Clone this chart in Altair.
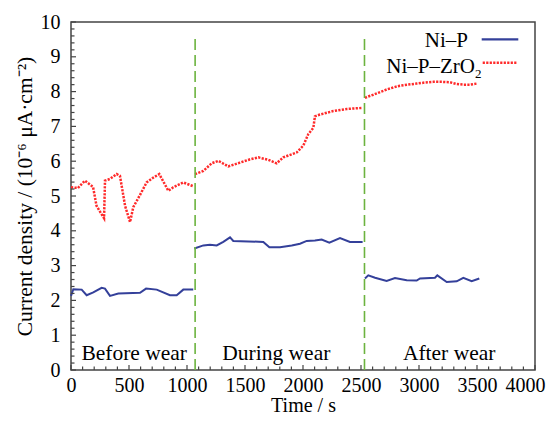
import altair as alt
import pandas as pd

# ---------------- data ----------------
nip_before_t = [0, 20, 92, 135, 192, 264, 293, 336, 408, 595, 647, 739, 853, 911, 968, 1054]
nip_before_v = [2.13, 2.32, 2.31, 2.15, 2.23, 2.36, 2.34, 2.13, 2.20, 2.22, 2.34, 2.31, 2.15, 2.15, 2.31, 2.31]
nip_during_t = [1063, 1141, 1198, 1256, 1313, 1371, 1399, 1658, 1710, 1802, 1903, 1974, 2032, 2103, 2161, 2227, 2319, 2405, 2514]
nip_during_v = [3.49, 3.58, 3.60, 3.58, 3.68, 3.81, 3.71, 3.68, 3.53, 3.53, 3.58, 3.63, 3.71, 3.72, 3.75, 3.66, 3.79, 3.68, 3.68]
nip_after_t = [2534, 2563, 2621, 2721, 2793, 2894, 2980, 3009, 3138, 3158, 3239, 3325, 3382, 3454, 3520]
nip_after_v = [2.63, 2.72, 2.65, 2.56, 2.64, 2.58, 2.57, 2.63, 2.65, 2.72, 2.53, 2.55, 2.65, 2.55, 2.63]

zro_before_t = [0, 60, 120, 190, 220, 250, 285, 293, 336, 394, 422, 466, 509, 537, 590, 652, 710, 761, 839, 882, 968, 1054]
zro_before_v = [5.25, 5.23, 5.44, 5.26, 4.72, 4.55, 4.36, 5.44, 5.49, 5.63, 5.58, 4.72, 4.25, 4.68, 5.00, 5.39, 5.53, 5.63, 5.15, 5.25, 5.39, 5.28]
zro_during_t = [1069, 1141, 1213, 1270, 1356, 1457, 1540, 1615, 1701, 1773, 1830, 1945, 2003, 2046, 2089, 2103, 2146, 2261, 2376, 2505]
zro_during_v = [5.63, 5.72, 5.94, 6.01, 5.85, 5.96, 6.05, 6.11, 6.04, 5.94, 6.11, 6.25, 6.45, 6.78, 6.96, 7.29, 7.34, 7.44, 7.50, 7.53]
zro_after_t = [2534, 2563, 2606, 2660, 2721, 2780, 2836, 2900, 2980, 3050, 3124, 3200, 3267, 3320, 3382, 3440, 3497]
zro_after_v = [7.82, 7.86, 7.91, 7.98, 8.06, 8.12, 8.17, 8.20, 8.23, 8.26, 8.28, 8.28, 8.27, 8.22, 8.20, 8.20, 8.23]

boundary_t = [1070, 2530]
boundary_top = [9.63, 9.63]

phase_labels = ["Before wear", "During wear", "After wear"]
phase_label_t = [545, 1770, 3260]
phase_label_v = [0.3, 0.3, 0.3]

legend_labels = ["Ni\u2013P", "Ni\u2013P\u2013ZrO"]

x_tick_labels = [0, 500, 1000, 1500, 2000, 2500, 3000, 3500, 4000]
y_tick_labels = [0, 1, 2, 3, 4, 5, 6, 7, 8, 9, 10]

# ---------------- styling ----------------
BLUE = "#34409a"
RED = "#ff2a2a"
GREEN = "#6cb33f"
FRAME = "#444444"
FONT = "Liberation Serif"
W, H = 464, 348


def seg(ts, vs, phase):
    return pd.DataFrame({"t": ts, "v": vs, "phase": phase})


blue_df = pd.concat([seg(nip_before_t, nip_before_v, "b"),
                     seg(nip_during_t, nip_during_v, "d"),
                     seg(nip_after_t, nip_after_v, "a")])
red_df = pd.concat([seg(zro_before_t, zro_before_v, "b"),
                    seg(zro_during_t, zro_during_v, "d"),
                    seg(zro_after_t, zro_after_v, "a")])

x_scale = alt.Scale(domain=[0, 4000], nice=False, zero=False)
y_scale = alt.Scale(domain=[0, 10], nice=False)

x_axis = alt.Axis(values=x_tick_labels, format="d", title="Time / s",
                  labelPadding=5, titlePadding=0, titleFontSize=20,
                  labelOffset={"condition": {"test": "datum.value == 4000", "value": -10},
                               "value": 0})
y_axis = alt.Axis(values=y_tick_labels, format="d",
                  title="Current density / (10\u207b\u2076 \u03bcA\u00b7cm\u207b\u00b2)",
                  labelPadding=11, titlePadding=4, titleFontSize=21.5)


def X(f="t:Q"):
    return alt.X(f, scale=x_scale, axis=x_axis)


def Y(f="v:Q"):
    return alt.Y(f, scale=y_scale, axis=y_axis)


blue_line = alt.Chart(blue_df).mark_line(color=BLUE, strokeWidth=2).encode(
    x=X(), y=Y(), detail="phase:N",
)
red_line = alt.Chart(red_df).mark_line(color=RED, strokeWidth=2.5, strokeDash=[2.2, 1.3]).encode(
    x=X(), y=Y(), detail="phase:N",
)

bnd_df = pd.DataFrame({"t": boundary_t, "y0": [0, 0], "y1": boundary_top})
boundaries = alt.Chart(bnd_df).mark_rule(color=GREEN, strokeWidth=1.6, strokeDash=[11, 5]).encode(
    x=X(), y=Y("y0:Q"), y2="y1:Q",
)

# inward ticks
y_major_df = pd.DataFrame({"v": y_tick_labels})
y_minor_df = pd.DataFrame({"v": [i / 5 for i in range(0, 51) if i % 5 != 0]})
x_major_df = pd.DataFrame({"t": x_tick_labels})
x_minor_df = pd.DataFrame({"t": [i * 100 for i in range(0, 41) if i % 5 != 0]})

y_major = alt.Chart(y_major_df).mark_rule(color=FRAME, strokeWidth=1.2).encode(
    y=Y(), x=alt.value(0), x2=alt.value(5))
y_minor = alt.Chart(y_minor_df).mark_rule(color=FRAME, strokeWidth=1.2).encode(
    y=Y(), x=alt.value(0), x2=alt.value(3.5))
x_major = alt.Chart(x_major_df).mark_rule(color=FRAME, strokeWidth=1.2).encode(
    x=X(), y=alt.value(H), y2=alt.value(H - 5))
x_minor = alt.Chart(x_minor_df).mark_rule(color=FRAME, strokeWidth=1.2).encode(
    x=X(), y=alt.value(H), y2=alt.value(H - 3.5))

# phase labels
ph_df = pd.DataFrame({"t": phase_label_t, "v": phase_label_v, "label": phase_labels})
phase_text = alt.Chart(ph_df).mark_text(font=FONT, fontSize=21.5, baseline="alphabetic",
                                        align="center", color="black").encode(
    x=X(), y=Y(), text="label:N")

# legend (drawn manually, top right)
one = pd.DataFrame({"a": [0]})
leg_t1 = alt.Chart(one).mark_text(font=FONT, fontSize=21, align="right", baseline="alphabetic",
                                  color="black").encode(
    x=alt.value(397), y=alt.value(24.5), text=alt.value(legend_labels[0]))
leg_t2 = alt.Chart(one).mark_text(font=FONT, fontSize=21, align="right", baseline="alphabetic",
                                  color="black").encode(
    x=alt.value(404), y=alt.value(51), text=alt.value(legend_labels[1]))
leg_sub = alt.Chart(one).mark_text(font=FONT, fontSize=13, align="left", baseline="alphabetic",
                                   color="black").encode(
    x=alt.value(404), y=alt.value(56), text=alt.value("2"))
leg_l1 = alt.Chart(one).mark_rule(color=BLUE, strokeWidth=2.2).encode(
    x=alt.value(410.7), x2=alt.value(447.3), y=alt.value(17.3))
leg_l2 = alt.Chart(one).mark_rule(color=RED, strokeWidth=2.5, strokeDash=[2.2, 1.3]).encode(
    x=alt.value(411.7), x2=alt.value(445.7), y=alt.value(40.7))

chart = alt.layer(
    blue_line, red_line, boundaries, y_major, y_minor, x_major, x_minor, phase_text,
    leg_t1, leg_t2, leg_sub, leg_l1, leg_l2,
).properties(
    width=W, height=H,
    autosize=alt.AutoSizeParams(type="none"),
    padding={"left": 63, "top": 14, "right": 12, "bottom": 46},
    background="white",
).configure_view(stroke=FRAME, strokeWidth=1.5).configure_axis(
    ticks=False, tickSize=0, domain=False, grid=False,
    labelFont=FONT, labelFontSize=20, labelColor="black",
    labelFlush=False, labelOverlap=False,
    titleFont=FONT, titleFontWeight="normal", titleColor="black",
)

chart.save("out.html", embed_options={"renderer": "svg", "actions": False})
